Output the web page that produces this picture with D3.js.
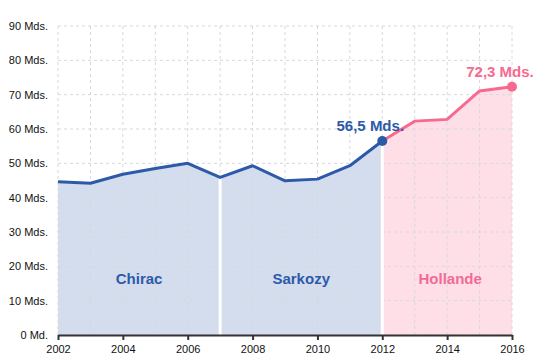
<!DOCTYPE html>
<html><head><meta charset="utf-8">
<script src="https://cdn.jsdelivr.net/npm/d3@7"></script>
<style>body{margin:0;background:#fff}svg{display:block;font-family:"Liberation Sans",Arial,sans-serif}</style>
</head><body><svg id="c" width="545" height="364"></svg>
<script>
const years = [2002,2003,2004,2005,2006,2007,2008,2009,2010,2011,2012,2013,2014,2015,2016];
const values = [44.6,44.2,46.8,48.5,50.0,45.9,49.3,44.9,45.4,49.3,56.5,62.3,62.8,71.1,72.3];
const periods = [
  {name:"Chirac", from:2002, to:2007},
  {name:"Sarkozy", from:2007, to:2012},
  {name:"Hollande", from:2012, to:2016}
];
const yTicks = [0,10,20,30,40,50,60,70,80,90];
const xTicks = [2002,2004,2006,2008,2010,2012,2014,2016];
const blue = "#2d5aa8", blueFill = "#d4ddee", pink = "#f7698f", pinkFill = "#fedfe8";

const svg = d3.select("#c");
const x = d3.scaleLinear().domain([2002,2016]).range([58,512]);
const y = d3.scaleLinear().domain([0,90]).range([335,26]);
const data = years.map((yr,i)=>({yr, v:values[i]}));

// areas
periods.forEach(p=>{
  const sub = data.filter(d=>d.yr>=p.from && d.yr<=p.to);
  const isH = p.name==="Hollande";
  svg.append("path").datum(sub)
    .attr("fill", isH?pinkFill:blueFill)
    .attr("d", d3.area().x(d=>x(d.yr)).y0(y(0)).y1(d=>y(d.v)));
});
// grid
const g = svg.append("g");
yTicks.forEach(t=>{
  g.append("line").attr("x1",x(2002)).attr("x2",x(2016)).attr("y1",y(t)).attr("y2",y(t))
   .attr("stroke","#d8d8d8").attr("stroke-dasharray","3,3");
});
years.forEach(t=>{
  g.append("line").attr("x1",x(t)).attr("x2",x(t)).attr("y1",y(90)).attr("y2",y(0))
   .attr("stroke","#d8d8d8").attr("stroke-dasharray","3,3");
});
// white separators
[2007,2012].forEach(t=>{
  svg.append("line").attr("x1",x(t)).attr("x2",x(t)).attr("y1",y(0)).attr("y2",y(data.find(d=>d.yr===t).v))
    .attr("stroke","#fff").attr("stroke-width",3);
});
// lines
const line = d3.line().x(d=>x(d.yr)).y(d=>y(d.v));
svg.append("path").datum(data.filter(d=>d.yr>=2012)).attr("fill","none").attr("stroke",pink).attr("stroke-width",3).attr("d",line);
svg.append("path").datum(data.filter(d=>d.yr<=2012)).attr("fill","none").attr("stroke",blue).attr("stroke-width",3).attr("stroke-linejoin","round").attr("d",line);
// points
const p12 = data.find(d=>d.yr===2012), p16 = data.find(d=>d.yr===2016);
svg.append("circle").attr("cx",x(p12.yr)).attr("cy",y(p12.v)).attr("r",5).attr("fill",blue);
svg.append("circle").attr("cx",x(p16.yr)).attr("cy",y(p16.v)).attr("r",5).attr("fill",pink);
const fmt = v=>String(v).replace(".",",")+" Mds.";
svg.append("text").attr("x",x(p12.yr)-12).attr("y",y(p12.v)-10).attr("text-anchor","middle")
  .attr("font-size",15).attr("font-weight","bold").attr("fill",blue).text(fmt(p12.v));
svg.append("text").attr("x",x(p16.yr)-12).attr("y",y(p16.v)-10).attr("text-anchor","middle")
  .attr("font-size",15).attr("font-weight","bold").attr("fill",pink).text(fmt(p16.v));
// period labels
periods.forEach(p=>{
  const isH = p.name==="Hollande";
  svg.append("text").attr("x",(x(p.from)+x(p.to))/2+(isH?3:0)).attr("y",284).attr("text-anchor","middle")
    .attr("font-size",15).attr("font-weight","bold").attr("fill",isH?"#f26b96":"#2d5aa8").text(p.name);
});
// axes
const xa = svg.append("g").attr("transform",`translate(0,${y(0)})`)
  .call(d3.axisBottom(x).tickValues(xTicks).tickFormat(d3.format("d")).tickSize(5).tickSizeOuter(0));
xa.select(".domain").attr("stroke","#333").attr("stroke-width",2);
xa.selectAll(".tick line").attr("stroke","#333").attr("stroke-width",2);
xa.selectAll("text").attr("font-size",11).attr("fill","#111").attr("font-family","Liberation Sans, Arial, sans-serif").attr("dy","0.9em");
const ya = svg.append("g").attr("transform",`translate(${x(2002)},0)`)
  .call(d3.axisLeft(y).tickValues(yTicks).tickFormat(d=>d===0?"0 Md.":d+" Mds.").tickSize(0).tickPadding(10));
ya.select(".domain").remove();
ya.selectAll("text").attr("font-size",11).attr("fill","#111").attr("font-family","Liberation Sans, Arial, sans-serif");
</script></body></html>
